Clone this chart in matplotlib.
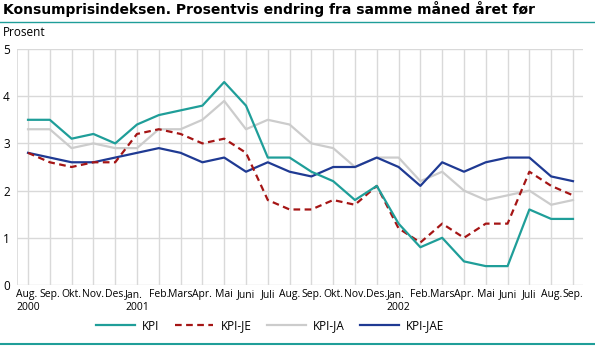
import matplotlib
matplotlib.use("Agg")
import matplotlib.pyplot as plt
from matplotlib.lines import Line2D

plt.rcParams['font.family'] = ['Open Sans', 'DejaVu Sans']

months = ["Aug.", "Sep.", "Okt.", "Nov.", "Des.", "Jan.", "Feb.", "Mars", "Apr.", "Mai", "Juni", "Juli",
          "Aug.", "Sep.", "Okt.", "Nov.", "Des.", "Jan.", "Feb.", "Mars", "Apr.", "Mai", "Juni", "Juli",
          "Aug.", "Sep."]
years = {0: "2000", 5: "2001", 17: "2002"}

kpi = [3.5, 3.5, 3.1, 3.2, 3.0, 3.4, 3.6, 3.7, 3.8, 4.3, 3.8, 2.7, 2.7, 2.4, 2.2, 1.8, 2.1,
       1.3, 0.8, 1.0, 0.5, 0.4, 0.4, 1.6, 1.4, 1.4]
kpi_je = [2.8, 2.6, 2.5, 2.6, 2.6, 3.2, 3.3, 3.2, 3.0, 3.1, 2.8, 1.8, 1.6, 1.6, 1.8, 1.7, 2.1,
          1.2, 0.9, 1.3, 1.0, 1.3, 1.3, 2.4, 2.1, 1.9]
kpi_ja = [3.3, 3.3, 2.9, 3.0, 2.9, 2.9, 3.3, 3.3, 3.5, 3.9, 3.3, 3.5, 3.4, 3.0, 2.9, 2.5, 2.7,
          2.7, 2.2, 2.4, 2.0, 1.8, 1.9, 2.0, 1.7, 1.8]
kpi_jae = [2.8, 2.7, 2.6, 2.6, 2.7, 2.8, 2.9, 2.8, 2.6, 2.7, 2.4, 2.6, 2.4, 2.3, 2.5, 2.5, 2.7,
           2.5, 2.1, 2.6, 2.4, 2.6, 2.7, 2.7, 2.3, 2.2]

W, H = 595, 347
fig = plt.figure(figsize=(W / 100, H / 100), dpi=100)
ax = fig.add_axes([17 / W, (H - 285) / H, 566 / W, 236 / H])

x = list(range(len(months)))
grid_c = "#d9d9d9"
for xi in x:
    ax.axvline(xi, color=grid_c, lw=1, zorder=0)
for yi in range(0, 6):
    ax.axhline(yi, color=grid_c, lw=1, zorder=0)
ax.axvline(-0.505, color=grid_c, lw=1.2, zorder=0)

ax.plot(x, kpi_ja, color="#cccccc", lw=1.6, label="KPI-JA", zorder=2)
ax.plot(x, kpi_jae, color="#1f3a93", lw=1.6, label="KPI-JAE", zorder=3)
ax.plot(x, kpi_je, color="#a51515", lw=1.6, ls=(0, (3, 2)), label="KPI-JE", zorder=4)
ax.plot(x, kpi, color="#1f9e99", lw=1.6, label="KPI", zorder=5)

ax.set_xlim(-0.505, 25.46)
ax.set_ylim(0, 5)
for s in ax.spines.values():
    s.set_visible(False)
ax.set_xticks(x)
labels = [m + ("\n" + years[i] if i in years else "") for i, m in enumerate(months)]
ax.set_xticklabels(labels, fontsize=7.5, linespacing=1.25, va="top")
ax.tick_params(axis="x", length=0, pad=3)
for lab in ax.get_xticklabels():
    lab.set_multialignment("left")
ax.set_yticks(range(0, 6))
ax.set_yticklabels([str(v) for v in range(0, 6)], fontsize=8.5)
ax.tick_params(axis="y", length=0, pad=0)
for lab in ax.get_yticklabels():
    lab.set_horizontalalignment("left")
    lab.set_x(-14 / 566)

fig.text(3 / W, 1 - 9 / H, "Konsumprisindeksen. Prosentvis endring fra samme måned året før",
         fontsize=10, fontweight="bold", va="center", ha="left", family="DejaVu Sans")
fig.text(3 / W, 1 - 33 / H, "Prosent", fontsize=8.5, va="center", ha="left")
fig.add_artist(Line2D([0, 594 / W], [1 - 22 / H, 1 - 22 / H], color="#1f9e99", lw=1.0,
                      transform=fig.transFigure))
fig.add_artist(Line2D([0, 594 / W], [1 - 344 / H, 1 - 344 / H], color="#1f9e99", lw=1.5,
                      transform=fig.transFigure))

h = ax.get_legend_handles_labels()
order = ["KPI", "KPI-JE", "KPI-JA", "KPI-JAE"]
hd = dict(zip(h[1], h[0]))
fig.legend([hd[k] for k in order], order, loc="center", bbox_to_anchor=(270 / W, 1 - 326 / H),
           ncol=4, frameon=False, fontsize=8.5, handlelength=3.3, handletextpad=0.6,
           columnspacing=1.3)

fig.savefig("out.png", dpi=100)
